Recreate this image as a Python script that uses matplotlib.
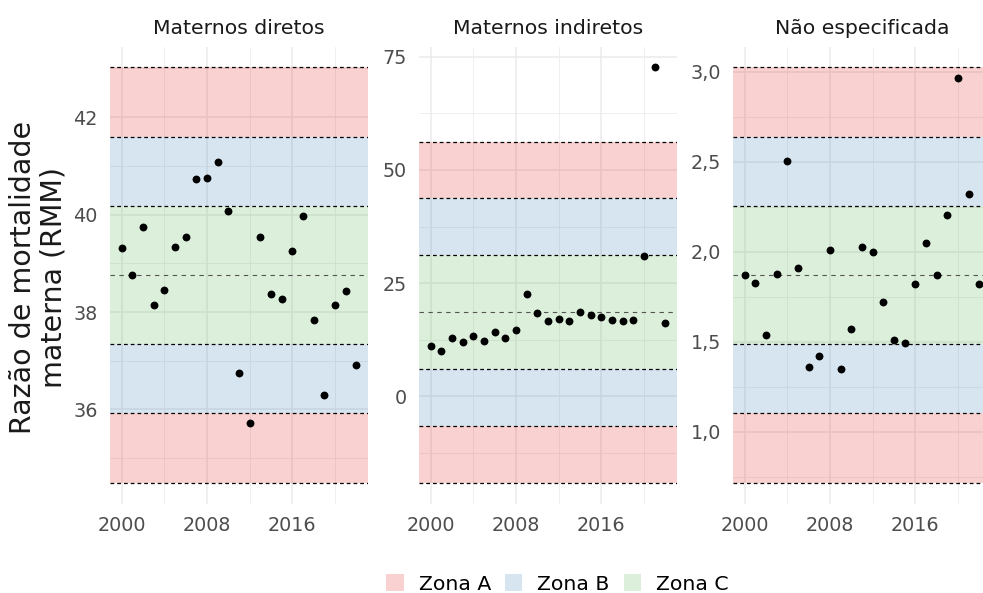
import numpy as np
import matplotlib
matplotlib.use("Agg")
import matplotlib.pyplot as plt
from matplotlib.ticker import MultipleLocator, FuncFormatter
from matplotlib.patches import Patch

plt.rcParams['font.family'] = ['DejaVu Sans']

years = [2000, 2001, 2002, 2003, 2004, 2005, 2006, 2007, 2008, 2009, 2010, 2011,
         2012, 2013, 2014, 2015, 2016, 2017, 2018, 2019, 2020, 2021, 2022]

panel_titles = ["Maternos diretos", "Maternos indiretos", "Não especificada"]

diretos = [39.31, 38.77, 39.75, 38.15, 38.46, 39.34, 39.55, 40.73, 40.75, 41.08,
           40.07, 36.75, 35.72, 39.53, 38.37, 38.27, 39.26, 39.98, 37.84, 36.30,
           38.14, 38.44, 36.92]
indiretos = [11.18, 10.00, 12.80, 12.06, 13.30, 12.13, 14.19, 12.80, 14.56, 22.57,
             18.38, 16.54, 17.06, 16.54, 18.53, 17.87, 17.43, 16.76, 16.54, 16.76,
             30.96, 72.65, 16.18]
nao_especificada = [1.870, 1.828, 1.539, 1.878, 2.507, 1.909, 1.359, 1.420, 2.009,
                    1.350, 1.570, 2.028, 1.998, 1.719, 1.509, 1.491, 1.819, 2.048,
                    1.870, 2.207, 2.969, 2.319, 1.819]

zone_labels = ["Zona A", "Zona B", "Zona C"]
zone_colors = {"Zona A": "#E41A1C", "Zona B": "#377EB8", "Zona C": "#4DAF4A"}
zone_alpha = 0.2

series = [diretos, indiretos, nao_especificada]
major_steps = [2, 25, 0.5]
minor_steps = [1, 12.5, 0.25]

fig = plt.figure(figsize=(9.83, 5.93), dpi=100)
W, H = 983.0, 593.0
panel_lefts = [110, 419, 733]
panel_w = 258
panel_top, panel_bot = 46.5, 503.5

def fmt_int(v, pos):
    return f"{v:g}"

def fmt_comma(v, pos):
    return f"{v:.1f}".replace(".", ",")

formatters = [fmt_int, fmt_int, fmt_comma]

x = np.array(years, dtype=float)
xr = x.max() - x.min()
xlim = (x.min() - 0.05 * xr, x.max() + 0.05 * xr)

for i, (vals, title) in enumerate(zip(series, panel_titles)):
    ax = fig.add_axes([panel_lefts[i] / W, (H - panel_bot) / H,
                       panel_w / W, (panel_bot - panel_top) / H])
    v = np.array(vals)
    m = v.mean()
    s = v.std(ddof=1)
    bands = [(-3, -2, "Zona A"), (-2, -1, "Zona B"), (-1, 1, "Zona C"),
             (1, 2, "Zona B"), (2, 3, "Zona A")]
    for lo, hi, z in bands:
        ax.axhspan(m + lo * s, m + hi * s, color=zone_colors[z], alpha=zone_alpha,
                   lw=0, zorder=1)
    for k in [-3, -2, -1, 1, 2, 3]:
        ax.axhline(m + k * s, color="black", lw=0.9, ls=(0, (3.0, 2.4)), zorder=2)
    ax.axhline(m, color="#555555", lw=0.8, ls=(0, (4.0, 4.0)), zorder=2)
    ax.scatter(x, v, s=32, color="black", zorder=3, linewidths=0)

    lo_y = min(m - 3 * s, v.min())
    hi_y = max(m + 3 * s, v.max())
    pad = 0.05 * (hi_y - lo_y)
    ax.set_ylim(lo_y - pad, hi_y + pad)
    ax.set_xlim(*xlim)

    ax.xaxis.set_major_locator(MultipleLocator(8))
    ax.xaxis.set_minor_locator(MultipleLocator(4))
    ax.yaxis.set_major_locator(MultipleLocator(major_steps[i]))
    ax.yaxis.set_minor_locator(MultipleLocator(minor_steps[i]))
    ax.yaxis.set_major_formatter(FuncFormatter(formatters[i]))
    ax.xaxis.set_major_formatter(FuncFormatter(lambda val, pos: f"{int(round(val))}"))

    ax.set_axisbelow(True)
    ax.grid(which="major", color="#EBEBEB", lw=1.1)
    ax.grid(which="minor", color="#EBEBEB", lw=0.55)
    for sp in ax.spines.values():
        sp.set_visible(False)
    ax.tick_params(which="both", length=0)
    ax.tick_params(axis="both", which="major", labelsize=13.8, labelcolor="#4D4D4D", pad=8.7)
    ax.set_facecolor("white")
    ax.set_title(title, fontsize=14.7, color="#1A1A1A", pad=9)

fig.text(38 / W, (H - 277) / H, "Razão de mortalidade\nmaterna (RMM)",
         rotation=90, ha="center", va="center", multialignment="center",
         fontsize=20.5, color="#1A1A1A", linespacing=1.1)

handles = [Patch(facecolor=zone_colors[z], alpha=zone_alpha, edgecolor="none", label=z)
           for z in zone_labels]
fig.legend(handles=handles, loc="center", bbox_to_anchor=(557.5 / W, (H - 584) / H),
           ncol=3, frameon=False, fontsize=14.7, handlelength=0.85, handleheight=0.85,
           handletextpad=0.73, columnspacing=0.69, borderpad=0, borderaxespad=0)

fig.savefig("out.png", dpi=100)
